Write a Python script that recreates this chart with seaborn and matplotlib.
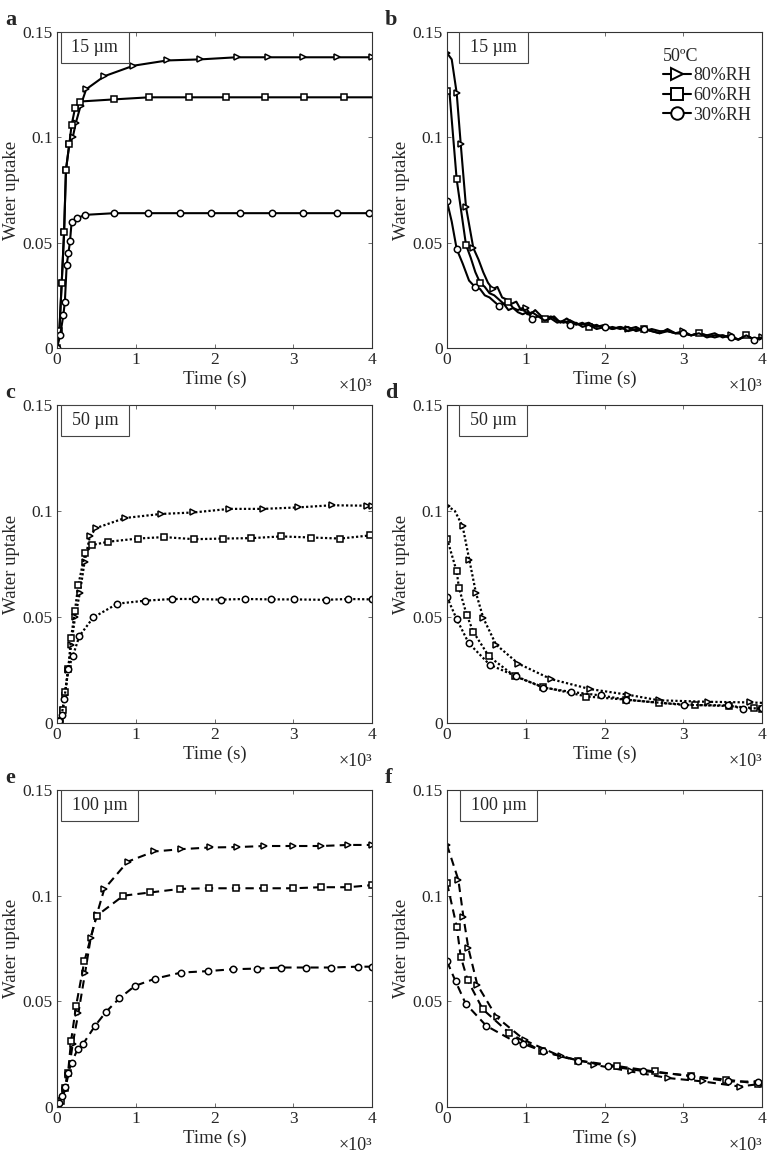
import matplotlib
matplotlib.use("Agg")
import matplotlib.pyplot as plt
from matplotlib.lines import Line2D
from matplotlib.patches import Rectangle
import seaborn as sns

# ---------------- data ----------------
# panel a (15 um, uptake)
a80_t = [0, 30, 60, 90, 114, 157, 200, 240, 300, 370, 600, 970, 1400, 1820, 2280, 2680, 3120, 3560, 4000]
a80_v = [0, 0.008, 0.031, 0.055, 0.0846, 0.097, 0.100, 0.107, 0.115, 0.1228, 0.129, 0.134, 0.1365, 0.137, 0.138, 0.138, 0.138, 0.138, 0.138]
a60_t = [0, 30, 60, 90, 114, 157, 186, 230, 290, 720, 1170, 1670, 2140, 2640, 3140, 3640, 4000]
a60_v = [0, 0.008, 0.031, 0.055, 0.0846, 0.097, 0.106, 0.114, 0.117, 0.118, 0.119, 0.119, 0.119, 0.119, 0.119, 0.119, 0.119]
a30_t = [0, 40, 81, 100, 123, 145, 165, 186, 250, 356, 730, 1160, 1560, 1950, 2330, 2730, 3130, 3560, 3960, 4000]
a30_v = [0, 0.006, 0.0157, 0.022, 0.0395, 0.045, 0.0506, 0.060, 0.0615, 0.0632, 0.064, 0.064, 0.064, 0.064, 0.064, 0.064, 0.064, 0.064, 0.064, 0.064]

# panel b (15 um, desorption)
b80_t = [0, 60, 123, 174, 241, 334, 400, 460, 520, 580, 640, 700, 760, 820, 880, 940, 1000, 1060, 1120, 1200,
         1280, 1360, 1440, 1520, 1600, 1700, 1800, 1900, 2000, 2100, 2200, 2300, 2400, 2500, 2600, 2700, 2800,
         2900, 3000, 3100, 3200, 3300, 3400, 3500, 3600, 3700, 3800, 3900, 4000]
b80_v = [0.140, 0.137, 0.121, 0.097, 0.067, 0.0475, 0.042, 0.036, 0.031, 0.028, 0.029, 0.024, 0.023, 0.021, 0.022,
         0.018, 0.019, 0.016, 0.018, 0.015, 0.014, 0.015, 0.012, 0.014, 0.012, 0.011, 0.012, 0.010, 0.011, 0.009,
         0.010, 0.009, 0.010, 0.008, 0.009, 0.008, 0.008, 0.007, 0.008, 0.006, 0.007, 0.006, 0.007, 0.005, 0.006,
         0.004, 0.006, 0.004, 0.005]
b60_t = [0, 30, 123, 241, 300, 360, 420, 480, 540, 600, 660, 720, 780, 840, 900, 960, 1020, 1080, 1160, 1240,
         1320, 1400, 1480, 1560, 1640, 1720, 1800, 1900, 2000, 2100, 2200, 2300, 2400, 2500, 2600, 2700, 2800,
         2900, 3000, 3100, 3200, 3300, 3400, 3500, 3600, 3700, 3800, 3900, 4000]
b60_v = [0.122, 0.122, 0.080, 0.049, 0.043, 0.036, 0.031, 0.029, 0.026, 0.025, 0.023, 0.021, 0.022, 0.019, 0.018,
         0.019, 0.016, 0.017, 0.015, 0.014, 0.015, 0.013, 0.012, 0.013, 0.011, 0.012, 0.010, 0.011, 0.009, 0.010,
         0.009, 0.010, 0.008, 0.009, 0.008, 0.007, 0.009, 0.007, 0.007, 0.006, 0.007, 0.006, 0.005, 0.006, 0.005,
         0.004, 0.006, 0.004, 0.005]
b30_t = [0, 60, 123, 200, 280, 355, 420, 480, 540, 600, 660, 720, 780, 840, 900, 960, 1020, 1080, 1160, 1240,
         1320, 1400, 1480, 1560, 1640, 1720, 1800, 1900, 2000, 2100, 2200, 2300, 2400, 2500, 2600, 2700, 2800,
         2900, 3000, 3100, 3200, 3300, 3400, 3500, 3600, 3700, 3800, 3900, 4000]
b30_v = [0.0696, 0.060, 0.047, 0.040, 0.032, 0.029, 0.028, 0.025, 0.024, 0.022, 0.020, 0.021, 0.018, 0.019, 0.017,
         0.016, 0.017, 0.014, 0.015, 0.013, 0.014, 0.012, 0.013, 0.011, 0.012, 0.010, 0.011, 0.009, 0.010, 0.009,
         0.010, 0.008, 0.009, 0.009, 0.008, 0.007, 0.008, 0.007, 0.007, 0.006, 0.007, 0.005, 0.006, 0.006, 0.005,
         0.004, 0.006, 0.004, 0.005]
b80_mk = [0, 2, 3, 4, 5, 9, 16, 24, 31, 38, 44, 48]
b60_mk = [0, 2, 3, 6, 12, 19, 26, 33, 40, 46]
b30_mk = [0, 2, 5, 10, 17, 23, 28, 33, 38, 44, 47]

# panel c (50 um, uptake)
c80_t = [0, 40, 70, 100, 140, 180, 230, 290, 350, 419, 500, 863, 1320, 1731, 2189, 2620, 3065, 3486, 3942, 4000]
c80_v = [0, 0.001, 0.006, 0.013, 0.025, 0.037, 0.050, 0.0613, 0.076, 0.0883, 0.092, 0.0967, 0.0986, 0.0993, 0.101,
         0.101, 0.1017, 0.1027, 0.1025, 0.1025]
c60_t = [0, 40, 70, 102, 144, 178, 228, 270, 356, 450, 652, 1024, 1358, 1740, 2108, 2468, 2849, 3230, 3598, 3979]
c60_v = [0, 0.001, 0.006, 0.0144, 0.0255, 0.040, 0.053, 0.065, 0.080, 0.084, 0.0855, 0.087, 0.0877, 0.0867, 0.087,
         0.0872, 0.088, 0.0875, 0.087, 0.0885]
c30_t = [0, 30, 60, 93, 144, 199, 284, 461, 768, 1120, 1466, 1753, 2079, 2384, 2723, 3011, 3413, 3700, 4000]
c30_v = [0, 0.001, 0.004, 0.0113, 0.0255, 0.0314, 0.041, 0.0498, 0.0563, 0.0577, 0.0585, 0.0585, 0.0582, 0.0585,
         0.0583, 0.0583, 0.0581, 0.0585, 0.0583]

# panel d (50 um, desorption)
d80_t = [0, 100, 199, 283, 368, 461, 622, 906, 1321, 1816, 2302, 2690, 3317, 3848, 4000]
d80_v = [0.1025, 0.100, 0.0927, 0.077, 0.0613, 0.0495, 0.037, 0.028, 0.0207, 0.016, 0.0133, 0.0107, 0.010, 0.0097, 0.0095]
d80_mk = [0, 2, 3, 4, 5, 6, 7, 8, 9, 10, 11, 12, 13]
d60_t = [0, 123, 152, 250, 334, 533, 863, 1219, 1770, 2278, 2690, 3150, 3582, 3900, 4000]
d60_v = [0.087, 0.0715, 0.0637, 0.051, 0.043, 0.0314, 0.022, 0.017, 0.0125, 0.011, 0.0095, 0.0085, 0.008, 0.007, 0.0065]
d30_t = [0, 123, 275, 542, 880, 1219, 1570, 1951, 2278, 3011, 3573, 3764, 4000]
d30_v = [0.0594, 0.049, 0.0377, 0.0275, 0.022, 0.0167, 0.0147, 0.013, 0.011, 0.0085, 0.0083, 0.0068, 0.007]

# panel e (100 um, uptake)
e80_t = [0, 50, 100, 144, 200, 271, 356, 428, 504, 601, 898, 1232, 1575, 1943, 2290, 2633, 3000, 3352, 3700, 4000]
e80_v = [0, 0.003, 0.008, 0.0153, 0.030, 0.0444, 0.0633, 0.080, 0.0909, 0.1032, 0.1161, 0.1209, 0.122, 0.1228,
         0.123, 0.1235, 0.1235, 0.1235, 0.124, 0.124]
e60_t = [0, 50, 100, 140, 178, 241, 347, 504, 843, 1181, 1562, 1924, 2273, 2633, 3000, 3352, 3700, 4000]
e60_v = [0, 0.003, 0.009, 0.016, 0.031, 0.0476, 0.0689, 0.0905, 0.100, 0.1015, 0.1032, 0.1035, 0.1035, 0.1035,
         0.1035, 0.104, 0.104, 0.105]
e30_t = [0, 25, 60, 102, 140, 186, 262, 334, 483, 622, 791, 990, 1244, 1575, 1914, 2239, 2540, 2845, 3165, 3480, 3820, 4000]
e30_v = [0, 0.002, 0.005, 0.0097, 0.016, 0.021, 0.0274, 0.030, 0.0384, 0.045, 0.0514, 0.0573, 0.0607, 0.0636,
         0.0643, 0.0652, 0.0655, 0.066, 0.066, 0.066, 0.0664, 0.0664]

# panel f (100 um, desorption)
f80_t = [0, 144, 208, 271, 385, 631, 991, 1448, 1867, 2333, 2810, 3246, 3715, 4000]
f80_v = [0.124, 0.1075, 0.0901, 0.0752, 0.0578, 0.0425, 0.0315, 0.0239, 0.020, 0.0168, 0.0137, 0.0121, 0.0097, 0.011]
f60_t = [0, 123, 174, 262, 453, 791, 1202, 1668, 2155, 2638, 3102, 3546, 3950]
f60_v = [0.106, 0.0854, 0.0712, 0.060, 0.0463, 0.035, 0.0263, 0.022, 0.0194, 0.0168, 0.0145, 0.013, 0.011]
f30_t = [0, 110, 237, 499, 859, 960, 1223, 1668, 2050, 2495, 3100, 3573, 3950]
f30_v = [0.0689, 0.0594, 0.0489, 0.0384, 0.031, 0.030, 0.0263, 0.022, 0.0194, 0.017, 0.0148, 0.0121, 0.012]

series_labels = ["80%RH", "60%RH", "30%RH"]
thickness_labels = ["15 \u00b5m", "50 \u00b5m", "100 \u00b5m"]
panel_letters = ["a", "b", "c", "d", "e", "f"]
x_ticks = [0, 1000, 2000, 3000, 4000]
x_ticklabels = ["0", "1", "2", "3", "4"]
y_ticks = [0, 0.05, 0.1, 0.15]
y_ticklabels = ["0", "0.05", "0.1", "0.15"]

# ---------------- style ----------------
sns.set_style("ticks")
plt.rcParams["font.family"] = ["Liberation Serif", "DejaVu Serif"]
plt.rcParams["axes.linewidth"] = 0.8

W, H = 769, 1157
fig = plt.figure(figsize=(W / 100, H / 100), dpi=100)

def fx(px):
    return px / W

def fy(py):
    return 1 - py / H

lefts = [57, 447]
rows = [(32, 348), (405, 723), (790, 1107)]
markers = [">", "s", "o"]

panels = [
    [(a80_t, a80_v, None), (a60_t, a60_v, list(range(len(a60_t) - 1))), (a30_t, a30_v, list(range(len(a30_t) - 1)))],
    [(b80_t, b80_v, b80_mk), (b60_t, b60_v, b60_mk), (b30_t, b30_v, b30_mk)],
    [(c80_t, c80_v, None), (c60_t, c60_v, None), (c30_t, c30_v, None)],
    [(d80_t, d80_v, d80_mk), (d60_t, d60_v, None), (d30_t, d30_v, None)],
    [(e80_t, e80_v, None), (e60_t, e60_v, None), (e30_t, e30_v, None)],
    [(f80_t, f80_v, None), (f60_t, f60_v, None), (f30_t, f30_v, None)],
]
styles = ["-", "-", (0, (1, 1)), (0, (1, 1)), (0, (4, 2.5)), (0, (4, 2.5))]
lws = [1.5, 1.5, 1.6, 1.6, 1.5, 1.5]
box_ranges = [(60.7, 129), (459, 528), (60.7, 129), (459, 527), (60.7, 138), (460, 537)]

for i in range(6):
    r, c = divmod(i, 2)
    top, bot = rows[r]
    left = lefts[c]
    ax = fig.add_axes([fx(left), fy(bot), fx(315), (bot - top) / H])
    for (t, v, mk), m in zip(panels[i], markers):
        kw = dict(markevery=mk) if mk is not None else {}
        sns.lineplot(x=t, y=v, ax=ax, color="black", linestyle=styles[i], linewidth=lws[i],
                     marker=m, markersize=4.6, markerfacecolor="white", markeredgecolor="black",
                     markeredgewidth=1.1, estimator=None, sort=False, **kw)
    ax.set_xlim(0, 4000)
    ax.set_ylim(0, 0.15)
    ax.set_xticks(x_ticks)
    ax.set_xticklabels(x_ticklabels)
    ax.set_yticks(y_ticks)
    ax.set_yticklabels(y_ticklabels)
    ax.tick_params(direction="in", length=3, width=0.6, labelsize=12.5, top=True, right=True,
                   pad=3, color="#555555")
    for s in ax.spines.values():
        s.set_color("#333333")
        s.set_linewidth(0.8)
    ax.set_xlabel("Time (s)", fontsize=13.5, labelpad=2)
    ax.set_ylabel("Water uptake", fontsize=13.5, labelpad=2)
    ax.text(1.0, -0.095, "\u00d710\u00b3", transform=ax.transAxes, ha="right", va="top", fontsize=13)
    # thickness box
    bx0, bx1 = box_ranges[i]
    x0 = (bx0 - left) / 315
    x1 = (bx1 - left) / 315
    hbox = 31 / (bot - top)
    ax.add_patch(Rectangle((x0, 1 - hbox), x1 - x0, hbox, transform=ax.transAxes,
                           facecolor="white", edgecolor="#444444", linewidth=0.8, zorder=5))
    ax.text((x0 + x1) / 2, 1 - hbox / 2, thickness_labels[r], transform=ax.transAxes,
            ha="center", va="center", fontsize=13, zorder=6)
    # panel letter
    fig.text(fx(left - 55 + (3 if c == 0 else -7)), fy(top - 22), panel_letters[i],
             fontsize=16, fontweight="bold", ha="left", va="top")
    if i == 1:
        handles = [Line2D([0], [0], color="black", lw=1.5, marker=m, markersize=9,
                          markerfacecolor="white", markeredgecolor="black", markeredgewidth=1.4)
                   for m in markers]
        leg = ax.legend(handles, series_labels, title="50\u00baC", loc="upper right",
                        bbox_to_anchor=(1.0, 0.985), frameon=False, fontsize=13,
                        title_fontsize=13, handlelength=1.6, handletextpad=0.1,
                        labelspacing=0.15, borderaxespad=0.2)
        leg._legend_box.align = "left"

fig.savefig("out.png", dpi=100)
